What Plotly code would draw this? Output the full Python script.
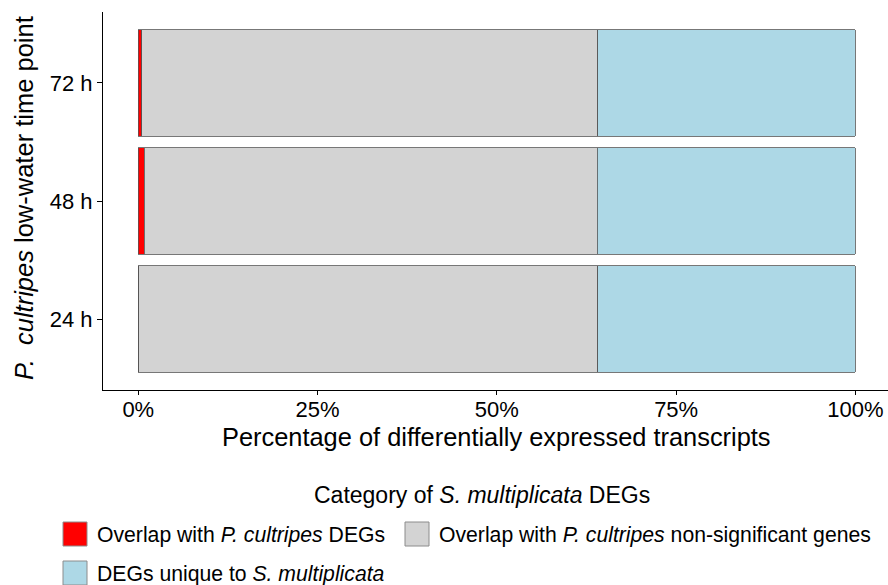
import plotly.graph_objects as go

# Time points (bottom to top) and the share of S. multiplicata DEGs in each category (%)
time_points = ["24 h", "48 h", "72 h"]
overlap_degs = [0.05, 0.84, 0.46]
overlap_nonsig = [64.0, 63.13, 63.6]
unique_degs = [35.95, 36.03, 35.94]

category_names = [
    "Overlap with <i>P. cultripes</i> DEGs",
    "Overlap with <i>P. cultripes</i> non-significant genes",
    "DEGs unique to <i>S. multiplicata</i>",
]
category_colors = ["#FF0000", "#D3D3D3", "#ADD8E6"]

x_ticks = [0, 25, 50, 75, 100]
x_tick_labels = ["0%", "25%", "50%", "75%", "100%"]

W, H = 888, 585
L, R, T, B = 103, 0, 12, 195
PW, PH = W - L - R, H - T - B
FONT = "Liberation Sans, Arial, sans-serif"


def px(xp):
    return (xp - L) / PW


def py(yp):
    return (H - B - yp) / PH


fig = go.Figure()
for name, vals, col in zip(category_names, [overlap_degs, overlap_nonsig, unique_degs], category_colors):
    fig.add_trace(go.Bar(
        y=time_points, x=vals, orientation="h", name=name,
        marker=dict(color=col, line=dict(color="#555555", width=0.8)),
        showlegend=False,
    ))

fig.update_layout(
    width=W, height=H,
    margin=dict(l=L, r=R, t=T, b=B, pad=0),
    barmode="stack", bargap=0.1,
    plot_bgcolor="white", paper_bgcolor="white",
    font=dict(family=FONT, color="black"),
    xaxis=dict(
        range=[-4.92, 104.54], tickvals=x_ticks, ticktext=x_tick_labels,
        showline=True, linecolor="black", linewidth=1.1, mirror=False,
        ticks="outside", ticklen=4, tickcolor="black", tickwidth=1.1,
        ticklabelstandoff=-4,
        showgrid=False, zeroline=False, tickfont=dict(size=22, color="black"),
    ),
    yaxis=dict(
        range=[-0.6, 2.6], categoryorder="array", categoryarray=time_points,
        showline=True, linecolor="black", linewidth=1.1,
        ticks="outside", ticklen=5, tickcolor="black", tickwidth=1.1,
        showgrid=False, zeroline=False, tickfont=dict(size=22, color="black"),
    ),
)

annotations = [
    dict(text="Percentage of differentially expressed transcripts",
         x=px(496), y=py(437), xref="paper", yref="paper",
         xanchor="center", yanchor="middle", showarrow=False,
         font=dict(size=25.4, color="black")),
    dict(text="<i>P.</i>\u00a0 <i>cultripes</i> low-water time point",
         x=px(24), y=py(198), xref="paper", yref="paper", textangle=-90,
         xanchor="center", yanchor="middle", showarrow=False,
         font=dict(size=25.5, color="black")),
    dict(text="Category of <i>S. multiplicata</i> DEGs",
         x=px(482), y=py(495), xref="paper", yref="paper",
         xanchor="center", yanchor="middle", showarrow=False,
         font=dict(size=23, color="black")),
]

# Legend keys and labels
legend_items = [(63, 534), (405, 534), (63, 573)]
shapes = []
for (kx, ky), name, col in zip(legend_items, category_names, category_colors):
    shapes.append(dict(type="rect", xref="paper", yref="paper",
                       x0=px(kx), x1=px(kx + 24), y0=py(ky - 12), y1=py(ky + 12),
                       fillcolor=col, line=dict(color="#8c8c8c", width=1)))
    annotations.append(dict(text=name, x=px(kx + 32), y=py(ky + 1),
                            xref="paper", yref="paper", xanchor="left", yanchor="middle",
                            showarrow=False, font=dict(size=21.2, color="black")))

fig.update_layout(annotations=annotations, shapes=shapes)
fig.write_html("out.html")
